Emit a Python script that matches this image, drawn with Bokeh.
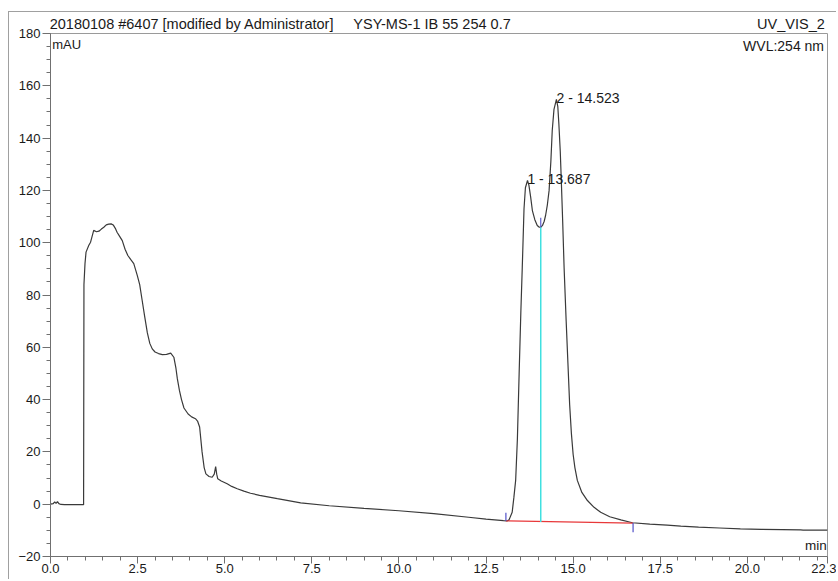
from bokeh.plotting import figure
from bokeh.models import Range1d, FixedTicker, Label, CustomJSTickFormatter, LinearAxis
from bokeh.embed import file_html
from bokeh.resources import INLINE

# ---- data ----
time_min = [0.00, 0.08, 0.12, 0.16, 0.20, 0.24, 0.30, 0.40, 0.60, 0.80, 0.95, 0.96, 0.99, 1.02,
            1.10, 1.15, 1.24, 1.32, 1.39, 1.46, 1.53, 1.60, 1.67, 1.74, 1.80, 1.86, 1.91, 1.98,
            2.06, 2.14, 2.22, 2.30, 2.39, 2.49, 2.56, 2.63, 2.70, 2.78, 2.85, 2.92, 3.00, 3.10,
            3.21, 3.33, 3.45, 3.54, 3.60, 3.64, 3.70, 3.76, 3.83, 3.95, 4.05, 4.16, 4.22, 4.28,
            4.35, 4.41, 4.46, 4.55, 4.64, 4.70, 4.74, 4.77, 4.80, 4.90, 5.07, 5.20, 5.36, 5.55,
            5.74, 6.00, 6.51, 7.18, 8.00, 9.00, 10.00, 11.00, 12.00, 12.50, 13.00, 13.10, 13.16,
            13.25, 13.30, 13.35, 13.40, 13.45, 13.50, 13.54, 13.59, 13.63, 13.69, 13.73, 13.78,
            13.83, 13.90, 13.97, 14.03, 14.07, 14.12, 14.17, 14.21, 14.26, 14.31, 14.36, 14.40,
            14.45, 14.52, 14.56, 14.59, 14.63, 14.66, 14.70, 14.74, 14.80, 14.85, 14.90, 14.95,
            15.00, 15.05, 15.12, 15.25, 15.41, 15.60, 15.79, 16.05, 16.37, 16.70, 17.20, 17.70,
            18.09, 18.60, 19.20, 19.80, 20.40, 21.00, 21.53, 21.60, 22.30]
signal_mau = [0.0, 0.2, 0.9, 0.3, 1.0, 0.2, -0.1, -0.2, -0.2, -0.2, -0.2, 84.0, 92.0, 96.4,
              99.0, 100.2, 104.7, 104.2, 104.4, 105.2, 105.9, 106.8, 107.1, 107.2, 106.8, 105.5, 104.0, 102.5,
              100.8, 97.5, 95.1, 93.6, 92.0, 87.5, 84.0, 78.0, 72.0, 65.5, 61.5, 59.4, 58.2, 57.6,
              57.2, 57.3, 57.8, 56.2, 52.0, 48.0, 43.5, 40.0, 36.8, 34.5, 33.4, 32.7, 31.8, 29.5,
              20.0, 14.0, 11.6, 10.6, 10.3, 11.5, 14.4, 11.5, 9.7, 8.9, 7.8, 6.8, 5.9, 5.0,
              4.2, 3.4, 2.1, 0.5, -0.6, -1.6, -2.5, -3.6, -5.0, -5.7, -6.3, -6.4, -6.0,
              -3.1, 2.7, 9.1, 25.0, 50.0, 74.0, 90.6, 113.0, 121.0, 123.8, 122.0, 117.5,
              112.3, 108.8, 106.6, 105.9, 105.9, 106.6, 108.2, 110.5, 114.5, 120.0, 131.0, 142.9,
              151.0, 154.8, 152.0, 145.5, 135.0, 123.8, 108.0, 90.6, 70.0, 54.0, 38.0, 27.0,
              19.0, 14.0, 9.1, 4.5, 1.4, -1.2, -3.1, -4.8, -6.0, -7.1, -7.6, -8.0,
              -8.4, -8.8, -9.1, -9.4, -9.6, -9.7, -9.8, -9.9, -9.9]

peak_times = [13.687, 14.523]
peak_heights = [123.8, 154.8]
peak_labels = ["1 - 13.687", "2 - 14.523"]

baseline_t = [13.07, 16.72]
baseline_v = [-6.4, -7.2]
valley_t = 14.07
valley_v = 105.9
valley_base_v = -6.85

x_tick_values = [0.0, 2.5, 5.0, 7.5, 10.0, 12.5, 15.0, 17.5, 20.0, 22.3]
x_tick_labels = ["0.0", "2.5", "5.0", "7.5", "10.0", "12.5", "15.0", "17.5", "20.0", "22.3"]
x_minor_ticks = [i * 0.5 for i in range(45)]
y_tick_values = [-20, 0, 20, 40, 60, 80, 100, 120, 140, 160, 180]
y_minor_ticks = list(range(-20, 181, 5))

header_texts = ["20180108 #6407 [modified by Administrator]", "YSY-MS-1 IB 55 254 0.7", "UV_VIS_2"]
header_centers = [4.06, 10.95, 21.25]

FONT = "Liberation Sans"
TXT = "#1a1a1a"
AX = "#707070"

p = figure(width=828, height=568,
           x_range=Range1d(0, 22.3), y_range=Range1d(-20, 180),
           output_backend="svg", toolbar_location=None,
           min_border_left=41, min_border_right=10,
           min_border_top=21, min_border_bottom=24)
p.styles = {"border-top": "1px solid #a0a0a0", "border-left": "1px solid #a0a0a0",
            "margin-top": "11px", "margin-left": "8px"}

p.xgrid.grid_line_color = None
p.ygrid.grid_line_color = None
p.outline_line_color = "#9a9a9a"
p.background_fill_color = "white"
p.border_fill_color = "white"

# axes
for ax in (p.xaxis[0], p.yaxis[0]):
    ax.axis_line_color = AX
    ax.major_tick_line_color = AX
    ax.minor_tick_line_color = AX
    ax.major_tick_in = 0
    ax.minor_tick_in = 0
    ax.major_label_text_font = FONT
    ax.major_label_text_color = TXT
    ax.major_label_text_font_size = "13px"

p.yaxis.ticker = FixedTicker(ticks=y_tick_values, minor_ticks=y_minor_ticks)
p.yaxis.major_tick_out = 8
p.yaxis.minor_tick_out = 4
p.yaxis.major_label_standoff = 2

p.xaxis.ticker = FixedTicker(ticks=x_tick_values, minor_ticks=x_minor_ticks)
p.xaxis.major_tick_out = 7
p.xaxis.minor_tick_out = 4
p.xaxis.major_label_standoff = 0
p.xaxis.formatter = CustomJSTickFormatter(args=dict(labels=x_tick_labels),
                                          code="return labels[index];")

# header line as an axis above the frame (no line, no ticks)
top = LinearAxis(ticker=FixedTicker(ticks=header_centers, minor_ticks=[]),
                 formatter=CustomJSTickFormatter(args=dict(labels=header_texts),
                                                 code="return labels[index];"))
top.axis_line_color = None
top.major_tick_line_color = None
top.minor_tick_line_color = None
top.major_tick_out = 0
top.major_tick_in = 0
top.minor_tick_out = 0
top.minor_tick_in = 0
top.major_label_standoff = 2
top.major_label_text_font = FONT
top.major_label_text_font_size = "14.5px"
top.major_label_text_color = TXT
p.add_layout(top, "above")

# trace
p.line(time_min, signal_mau, line_color="#3a3a3a", line_width=1.2)

# integration baseline and markers
p.line(baseline_t, baseline_v, line_color="#e8383a", line_width=1.2)
p.segment(x0=[valley_t], y0=[valley_base_v], x1=[valley_t], y1=[valley_v],
          line_color="#40e0e0", line_width=1.5)
p.segment(x0=[valley_t], y0=[valley_v], x1=[valley_t], y1=[valley_v + 3.6],
          line_color="#6060d0", line_width=1.2)
p.segment(x0=[baseline_t[0], baseline_t[1]], y0=[baseline_v[0], baseline_v[1]],
          x1=[baseline_t[0], baseline_t[1]], y1=[baseline_v[0] + 3.1, baseline_v[1] - 3.5],
          line_color="#5050c8", line_width=1.2)

# peak labels
for pt, ph, pl in zip(peak_times, peak_heights, peak_labels):
    p.add_layout(Label(x=pt, y=ph + 0.6, text=pl, text_align="left",
                       text_baseline="alphabetic", text_font=FONT,
                       text_font_size="14px", text_color=TXT))

# corner texts inside the frame
p.add_layout(Label(x=0.05, y=175.8, text="mAU", text_align="left",
                   text_baseline="alphabetic", text_font=FONT, text_font_size="13px", text_color=TXT))
p.add_layout(Label(x=22.2, y=175.2, text="WVL:254 nm", text_align="right",
                   text_baseline="alphabetic", text_font=FONT, text_font_size="14px", text_color=TXT))
p.add_layout(Label(x=22.28, y=-15.9, text="min", text_align="right",
                   text_baseline="alphabetic", text_font=FONT, text_font_size="13.5px", text_color=TXT))

open("out.html", "w").write(file_html(p, INLINE))
